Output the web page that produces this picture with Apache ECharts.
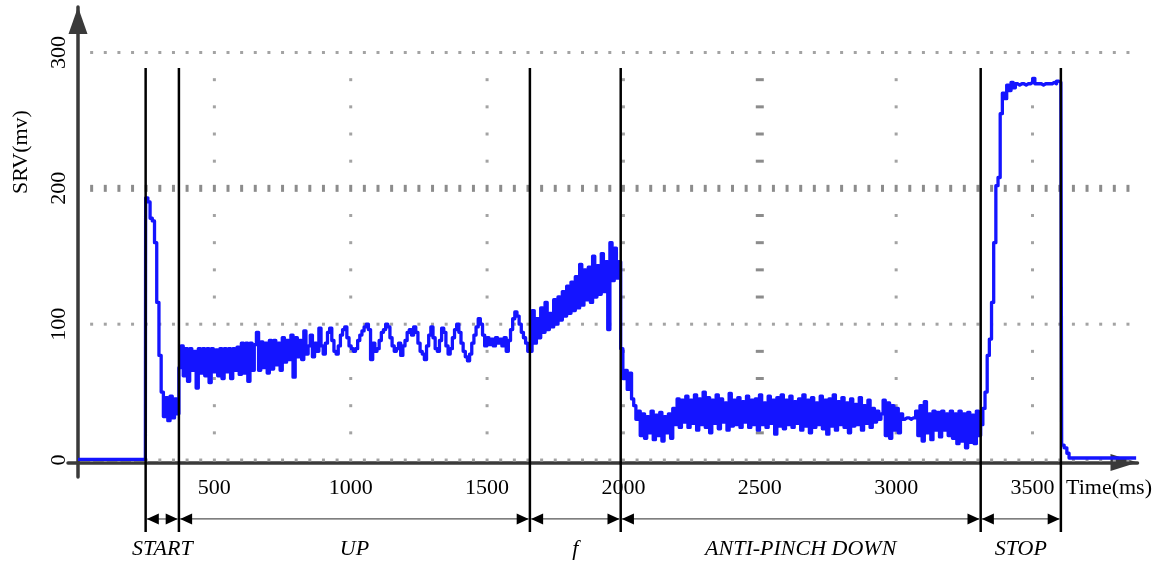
<!DOCTYPE html>
<html>
<head>
<meta charset="utf-8">
<script src="https://cdn.jsdelivr.net/npm/echarts@6/dist/echarts.min.js"></script>
<style>
  html, body { margin: 0; padding: 0; background: #fff; }
  #chart { width: 1160px; height: 563px; }
</style>
</head>
<body>
<div id="chart"></div>
<script>
// Sensor voltage (SRV) of a power window over one start / up / anti-pinch / stop cycle.

const timeTicks = [500, 1000, 1500, 2000, 2500, 3000, 3500];   // ms
const srvTicks = [0, 100, 200, 300];                              // mV
const phaseBounds = [248, 370, 1657, 1990, 3310, 3604];           // ms, phase limits
const phaseNames = ['START', 'UP', 'f', 'ANTI-PINCH DOWN', 'STOP'];

// Before the motor starts: [ms, mV]
const idleSrv = [[0, 0.5], [247, 0.5]];
// Samples of each phase, evenly spread between its limits (mV)
const startSrv = [193, 190, 178, 176, 160, 116, 77, 50, 32, 46, 29, 47, 31, 45, 34];
const upSrv = [
  68, 84, 62, 82, 58, 82, 66, 80, 53, 82,
  64, 82, 62, 82, 57, 82, 65, 81, 62, 82,
  60, 82, 65, 82, 60, 82, 66, 83, 63, 86,
  64, 86, 58, 86, 66, 85, 94, 66, 87, 68,
  86, 64, 88, 67, 88, 70, 86, 66, 90, 72,
  88, 74, 92, 61, 90, 76, 88, 74, 95, 78,
  84, 92, 76, 86, 80, 97, 84, 78, 86, 94,
  97, 88, 80, 78, 84, 92, 96, 98, 90, 84,
  82, 80, 82, 88, 92, 95, 98, 100, 96, 74,
  86, 80, 82, 88, 94, 96, 100, 98, 90, 84,
  80, 82, 86, 77, 84, 88, 94, 96, 92, 98,
  94, 86, 80, 78, 74, 84, 92, 98, 90, 82,
  80, 88, 97, 94, 84, 78, 82, 90, 96, 100,
  94, 86, 80, 76, 73, 78, 86, 92, 98, 104,
  100, 92, 84, 90, 85, 89, 84, 90, 86, 89,
  84, 90, 80, 88, 96, 104, 109, 106, 100, 94,
  90, 86, 80
];
const fSrv = [
  80, 110, 86, 104, 90, 112, 94, 116, 96, 108,
  98, 118, 100, 120, 103, 124, 106, 128, 108, 131,
  110, 135, 112, 144, 114, 140, 118, 142, 116, 150,
  120, 143, 122, 152, 124, 146, 96, 160, 132, 156,
  134, 146
];
const downSrv = [
  82, 60, 66, 52, 64, 45, 40, 30, 36, 18,
  34, 16, 32, 20, 36, 15, 33, 18, 35, 14,
  32, 20, 34, 16, 38, 26, 45, 24, 44, 28,
  47, 24, 44, 27, 48, 22, 45, 26, 50, 24,
  46, 20, 44, 27, 48, 23, 45, 28, 42, 22,
  49, 25, 44, 26, 46, 24, 43, 28, 47, 24,
  44, 26, 45, 22, 48, 26, 42, 24, 47, 27,
  44, 19, 46, 25, 48, 23, 44, 26, 47, 24,
  43, 27, 45, 22, 48, 25, 44, 20, 46, 24,
  42, 26, 47, 23, 44, 19, 45, 25, 48, 22,
  43, 26, 46, 24, 42, 20, 45, 25, 41, 26,
  46, 22, 40, 27, 44, 24, 38, 28, 36, 30,
  34, 44, 18, 42, 16, 40, 22, 38, 20, 34,
  30, 31, 31, 30, 31, 31, 36, 18, 40, 14,
  43, 20, 34, 15, 36, 22, 35, 17, 36, 22,
  34, 18, 36, 16, 34, 12, 36, 14, 34, 9,
  35, 13, 33, 12, 36, 18
];
const stopSrv = [
  26, 38, 50, 77, 89, 116, 160, 202, 208, 255,
  270, 266, 276, 272, 278, 274, 277, 276, 277, 277,
  276, 277, 277, 278, 281, 277, 277, 277, 276, 277,
  277, 277, 277, 278, 277, 279, 278
];
// Motor released: [ms, mV]
const releaseSrv = [[3604, 277], [3607, 11], [3616, 9], [3626, 5], [3634, 1.5], [3880, 1.5]];

const phaseSamples = [startSrv, upSrv, fSrv, downSrv, stopSrv];
const srvData = idleSrv.slice();
phaseSamples.forEach((vals, k) => {
  const t0 = phaseBounds[k], t1 = phaseBounds[k + 1];
  vals.forEach((v, i) => srvData.push([t0 + (t1 - t0) * i / vals.length, v]));
});
releaseSrv.forEach(p => srvData.push(p));

// Axis frame
const X_MIN = -36.7, X_MAX = 3885;
const Y_MIN = -12.5, Y_MAX = 333.5;
const AXIS_COLOR = '#3a3a3a';
const SERIF = '"Liberation Serif", "Times New Roman", serif';

// Oscilloscope-style dotted graticule
const DOT_STEP_MS = 50, DOT_END_MS = 3850, DOT_STEP_MV = 20, DOT_TOP_MV = 280;
const centerLevel = 200, centerTime = 2500;

// Phase annotation levels (mV, below the time axis)
const MARKER_TOP = 288.6, MARKER_BOTTOM = -53;
const DIM_LEVEL = -43.4, NAME_LEVEL = -65.5;

const chart = echarts.init(document.getElementById('chart'), null, { renderer: 'canvas' });

chart.setOption({
  animation: false,
  backgroundColor: '#fff',
  grid: { left: 68, right: 22.5, top: 7, bottom: 86, containLabel: false },
  xAxis: {
    type: 'value', min: X_MIN, max: X_MAX,
    offset: -14.5,
    axisLine: {
      onZero: false,
      symbol: ['none', 'triangle'], symbolSize: [17, 27], symbolOffset: [0, -13.5],
      lineStyle: { color: AXIS_COLOR, width: 3.5 }
    },
    axisTick: { show: false },
    splitLine: { show: false },
    axisLabel: {
      customValues: timeTicks,
      formatter: v => String(v),
      margin: 15,
      color: '#000', fontFamily: SERIF, fontSize: 22
    }
  },
  yAxis: {
    type: 'value', min: Y_MIN, max: Y_MAX,
    offset: -10,
    axisLine: {
      onZero: false,
      symbol: ['none', 'triangle'], symbolSize: [19, 27], symbolOffset: [0, -13.5],
      lineStyle: { color: AXIS_COLOR, width: 3.5 }
    },
    axisTick: { show: false },
    splitLine: { show: false },
    axisLabel: {
      customValues: srvTicks,
      formatter: v => String(v),
      rotate: 90,
      margin: 8,
      color: '#000', fontFamily: SERIF, fontSize: 22
    }
  },
  graphic: [
    {
      type: 'text', x: 21, y: 152, rotation: Math.PI / 2,
      style: { text: 'SRV(mv)', font: '22px ' + SERIF, fill: '#000',
               align: 'center', verticalAlign: 'middle', textAlign: 'center', textVerticalAlign: 'middle' }
    },
    {
      type: 'text', x: 1066, y: 488,
      style: { text: 'Time(ms)', font: '22px ' + SERIF, fill: '#000',
               align: 'left', verticalAlign: 'middle', textAlign: 'left', textVerticalAlign: 'middle' }
    }
  ],
  series: [
    // horizontal dotted lines
    {
      type: 'custom', silent: true, z: 1,
      data: srvTicks.map(v => [0, v]),
      renderItem: (params, api) => {
        const level = api.value(1);
        const major = level === centerLevel;
        const w = 3, h = major ? 7 : 3;
        const children = [];
        for (let t = DOT_STEP_MS; t <= DOT_END_MS; t += DOT_STEP_MS) {
          const p = api.coord([t, level]);
          children.push({
            type: 'rect',
            shape: { x: p[0] - w / 2, y: p[1] - h / 2, width: w, height: h },
            style: { fill: major ? '#8c8c8c' : '#a3a3a3' }
          });
        }
        return { type: 'group', children };
      }
    },
    // vertical dotted lines
    {
      type: 'custom', silent: true, z: 1,
      data: timeTicks.map(t => [t, 0]),
      renderItem: (params, api) => {
        const t = api.value(0);
        const major = t === centerTime;
        const w = major ? 8 : 3, h = 3;
        const children = [];
        for (let v = DOT_STEP_MV; v <= DOT_TOP_MV; v += DOT_STEP_MV) {
          if (v % 100 === 0) continue;
          const p = api.coord([t, v]);
          children.push({
            type: 'rect',
            shape: { x: p[0] - w / 2, y: p[1] - h / 2, width: w, height: h },
            style: { fill: major ? '#8c8c8c' : '#a3a3a3' }
          });
        }
        return { type: 'group', children };
      }
    },
    // SRV trace
    {
      type: 'line', name: 'SRV', z: 3,
      data: srvData,
      step: 'end',
      showSymbol: false,
      sampling: 'none',
      lineStyle: { color: '#1414ff', width: 3.3, join: 'round' },
      silent: true
    },
    // phase limit markers
    {
      type: 'custom', silent: true, z: 5,
      data: phaseBounds.map(t => [t, 0]),
      renderItem: (params, api) => {
        const t = api.value(0);
        const top = api.coord([t, MARKER_TOP]);
        const bottom = api.coord([t, MARKER_BOTTOM]);
        return {
          type: 'line',
          shape: { x1: top[0], y1: top[1], x2: bottom[0], y2: bottom[1] },
          style: { stroke: '#000', lineWidth: 2.5 }
        };
      }
    },
    // phase spans: dimension arrows and names
    {
      type: 'custom', silent: true, z: 5,
      data: phaseNames.map((n, k) => [phaseBounds[k], phaseBounds[k + 1]]),
      renderItem: (params, api) => {
        const a = api.coord([api.value(0), DIM_LEVEL]);
        const b = api.coord([api.value(1), DIM_LEVEL]);
        const name = phaseNames[params.dataIndex];
        const lab = api.coord([(api.value(0) + api.value(1)) / 2, NAME_LEVEL]);
        const L = 12, H = 5.5;
        const xa = a[0] + 1.2, xb = b[0] - 1.2, y = a[1];
        return {
          type: 'group',
          children: [
            { type: 'line', shape: { x1: xa, y1: y, x2: xb, y2: y },
              style: { stroke: '#555', lineWidth: 1.2 } },
            { type: 'polygon', shape: { points: [[xa, y], [xa + L, y - H], [xa + L, y + H]] },
              style: { fill: '#000' } },
            { type: 'polygon', shape: { points: [[xb, y], [xb - L, y - H], [xb - L, y + H]] },
              style: { fill: '#000' } },
            { type: 'text', x: lab[0], y: lab[1],
              style: { text: name, font: 'italic 22px ' + SERIF, fill: '#000',
                       align: 'center', verticalAlign: 'middle',
                       textAlign: 'center', textVerticalAlign: 'middle' } }
          ]
        };
      }
    }
  ]
});
</script>
</body>
</html>
